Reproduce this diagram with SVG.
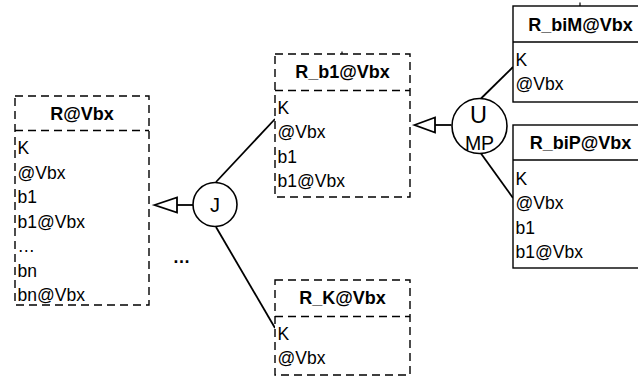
<svg xmlns="http://www.w3.org/2000/svg" width="638" height="381" viewBox="0 0 638 381">
<style>
  .bg { fill: #ffffff; }
  .dbox { fill: #ffffff; stroke: #000000; stroke-width: 1.4; stroke-dasharray: 8 5; }
  .sbox { fill: #ffffff; stroke: #000000; stroke-width: 1.4; }
  .title { font-family: "Liberation Sans", Arial, Helvetica, sans-serif; font-size: 18px; font-weight: bold; fill: #000000; text-anchor: middle; }
  .item { font-family: "Liberation Sans", Arial, Helvetica, sans-serif; font-size: 17.5px; fill: #000000; }
  .op { fill: #ffffff; stroke: #000000; stroke-width: 1.6; }
  .optext { font-family: "Liberation Sans", Arial, Helvetica, sans-serif; fill: #000000; text-anchor: middle; }
  .edge { fill: none; stroke: #000000; stroke-width: 1.8; }
  .head { fill: #ffffff; stroke: #000000; stroke-width: 1.8; }
  .tick { stroke: #000000; stroke-width: 1.2; }
</style>
<rect class="bg" x="0" y="0" width="638" height="381"/>

<g id="connectors">
  <line class="edge" x1="216" y1="182" x2="275" y2="119"/>
  <line class="edge" x1="216" y1="227" x2="275" y2="328"/>
  <line class="edge" x1="193" y1="205" x2="177" y2="205"/>
  <polygon class="head" points="154.5,205 177,197.5 177,212.5"/>
  <line class="edge" x1="481" y1="98.5" x2="513" y2="67"/>
  <line class="edge" x1="481" y1="153.5" x2="513" y2="198"/>
  <line class="edge" x1="451.5" y1="125" x2="435" y2="125"/>
  <polygon class="head" points="414.5,125 435,117.5 435,132.5"/>
  <line class="tick" x1="342" y1="51.5" x2="342" y2="54"/>
  <line class="tick" x1="580" y1="2.5" x2="580" y2="6"/>
</g>

<g id="R_Vbx">
  <rect class="dbox" x="15" y="96" width="134" height="209"/>
  <line class="dbox" x1="15" y1="130.5" x2="149" y2="130.5"/>
  <text class="title" x="82" y="120">R@Vbx</text>
  <text class="item" x="17.5" y="154">K</text>
  <text class="item" x="17.5" y="178.5">@Vbx</text>
  <text class="item" x="17.5" y="203">b1</text>
  <text class="item" x="17.5" y="227.5">b1@Vbx</text>
  <text class="item" x="17.5" y="252">…</text>
  <text class="item" x="17.5" y="276.5">bn</text>
  <text class="item" x="17.5" y="301">bn@Vbx</text>
</g>

<g id="R_b1_Vbx">
  <rect class="dbox" x="275" y="54" width="135" height="143"/>
  <line class="dbox" x1="275" y1="90.5" x2="410" y2="90.5"/>
  <text class="title" x="342.5" y="78">R_b1@Vbx</text>
  <text class="item" x="277.5" y="113.5">K</text>
  <text class="item" x="277.5" y="138">@Vbx</text>
  <text class="item" x="277.5" y="162.5">b1</text>
  <text class="item" x="277.5" y="187">b1@Vbx</text>
</g>

<g id="R_K_Vbx">
  <rect class="dbox" x="275" y="280" width="135" height="95"/>
  <line class="dbox" x1="275" y1="316.5" x2="410" y2="316.5"/>
  <text class="title" x="342.5" y="304">R_K@Vbx</text>
  <text class="item" x="277.5" y="340">K</text>
  <text class="item" x="277.5" y="364">@Vbx</text>
</g>

<g id="R_biM_Vbx">
  <rect class="sbox" x="513" y="6" width="135" height="96"/>
  <line class="sbox" x1="513" y1="42" x2="648" y2="42"/>
  <text class="title" x="580.5" y="30.5">R_biM@Vbx</text>
  <text class="item" x="515.5" y="66">K</text>
  <text class="item" x="515.5" y="90">@Vbx</text>
</g>

<g id="R_biP_Vbx">
  <rect class="sbox" x="513" y="125" width="135" height="143"/>
  <line class="sbox" x1="513" y1="160" x2="648" y2="160"/>
  <text class="title" x="580.5" y="149">R_biP@Vbx</text>
  <text class="item" x="515.5" y="185">K</text>
  <text class="item" x="515.5" y="209">@Vbx</text>
  <text class="item" x="515.5" y="233.5">b1</text>
  <text class="item" x="515.5" y="258">b1@Vbx</text>
</g>

<g id="J">
  <circle class="op" cx="215" cy="204.5" r="22"/>
  <text class="optext" x="215" y="212" font-size="20">J</text>
</g>

<g id="UMP">
  <circle class="op" cx="479.5" cy="126" r="27.5"/>
  <text class="optext" x="478.5" y="123" font-size="23.5">U</text>
  <text class="optext" x="479.5" y="150" font-size="19.5">MP</text>
</g>

<g id="ellipsis">
  <text class="optext" x="181.5" y="263" font-size="17.5" font-weight="bold">…</text>
</g>
</svg>
